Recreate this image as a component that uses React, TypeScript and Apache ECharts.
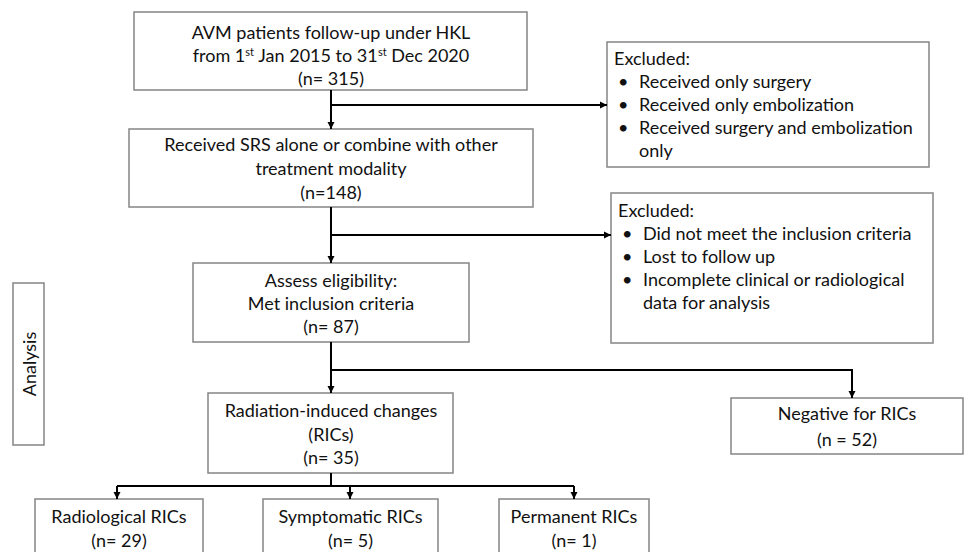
import React, { useEffect, useRef } from "react";
import * as echarts from "echarts";

// ---- Data (texts and counts of the flow diagram) ----
const mainStepLines: string[][] = [
  ["AVM patients follow-up under HKL", "from 1{sup|st} Jan 2015 to 31{sup|st} Dec 2020"],
  ["Received SRS alone or combine with other", "treatment modality"],
  ["Assess eligibility:", "Met inclusion criteria"],
  ["Radiation-induced changes", "(RICs)"],
];
const mainCounts: string[] = ["(n= 315)", "(n=148)", "(n= 87)", "(n= 35)"];
const exclusionTitle = "Excluded:";
const exclusion1: string[][] = [
  ["Received only surgery"],
  ["Received only embolization"],
  ["Received surgery and embolization", "only"],
];
const exclusion2: string[][] = [
  ["Did not meet the inclusion criteria"],
  ["Lost to follow up"],
  ["Incomplete clinical or radiological", "data for analysis"],
];
const outcomeLabels: string[] = ["Radiological RICs", "Symptomatic RICs", "Permanent RICs"];
const outcomeCounts: string[] = ["(n= 29)", "(n= 5)", "(n= 1)"];
const negativeLabel = "Negative for RICs";
const negativeCount = "(n = 52)";
const sideLabel = "Analysis";

const FONT_FAMILY = "Lato, 'Open Sans', 'DejaVu Sans', sans-serif";
const FONT_SIZE = 18;
const TEXT_COLOR = "#111111";
const BOX_STROKE = "#858585";
const LINE_COLOR = "#000000";

type Rect = { x: number; y: number; w: number; h: number };

function box(r: Rect): any {
  return {
    type: "rect",
    shape: { x: r.x, y: r.y, width: r.w, height: r.h },
    style: { fill: "#ffffff", stroke: BOX_STROKE, lineWidth: 1.5 },
    z: 1,
  };
}

function text(t: string, x: number, y: number, align: string = "center", rich = false, size = FONT_SIZE): any {
  const style: any = {
    text: t,
    x: 0,
    y: 0,
    fill: TEXT_COLOR,
    fontSize: size,
    fontFamily: FONT_FAMILY,
    textAlign: align,
    textVerticalAlign: "middle",
  };
  if (rich) {
    style.rich = {
      sup: {
        fontSize: 11,
        fontFamily: FONT_FAMILY,
        fill: TEXT_COLOR,
        verticalAlign: "top",
        textVerticalAlign: "top",
      },
    };
  }
  return { type: "text", x, y, style, z: 3 };
}

function centeredLines(lines: string[], cx: number, y0: number, step: number): any[] {
  return lines.map((l, i) => text(l, cx, y0 + i * step, "center", l.indexOf("{sup|") >= 0));
}

function polyline(points: number[][]): any {
  return {
    type: "polyline",
    shape: { points },
    style: { stroke: LINE_COLOR, lineWidth: 2, fill: null },
    z: 2,
  };
}

function arrowDown(x: number, y: number): any {
  return {
    type: "polygon",
    shape: { points: [[x, y], [x - 3.5, y - 7], [x + 3.5, y - 7]] },
    style: { fill: LINE_COLOR },
    z: 2,
  };
}

function arrowRight(x: number, y: number): any {
  return {
    type: "polygon",
    shape: { points: [[x, y], [x - 7, y - 3.5], [x - 7, y + 3.5]] },
    style: { fill: LINE_COLOR },
    z: 2,
  };
}

function bulletList(title: string, items: string[][], r: Rect, titleX: number, bulletX: number, textX: number, y0: number, step: number): any[] {
  const out: any[] = [box(r), text(title, titleX, y0, "left")];
  let row = 1;
  items.forEach((item) => {
    item.forEach((l, j) => {
      const y = y0 + row * step;
      if (j === 0) out.push(text("\u2022", bulletX, y, "left"));
      out.push(text(l, textX, y, "left"));
      row++;
    });
  });
  return out;
}

function buildGraphics(): any[] {
  const g: any[] = [];
  const cx = 331;

  const mainBoxes: Rect[] = [
    { x: 134, y: 12, w: 393, h: 78 },
    { x: 129, y: 129, w: 404, h: 78 },
    { x: 193, y: 263, w: 276, h: 79 },
    { x: 208, y: 393, w: 245, h: 80 },
  ];
  const mainFirstLine = [32, 144, 280, 410];
  const mainStep = [23, 24, 23, 23.5];

  // connectors
  g.push(polyline([[cx, 90], [cx, 129]]), arrowDown(cx, 129));
  g.push(polyline([[cx, 105], [607, 105]]), arrowRight(607, 105));
  g.push(polyline([[cx, 207], [cx, 263]]), arrowDown(cx, 263));
  g.push(polyline([[cx, 235], [611, 235]]), arrowRight(611, 235));
  g.push(polyline([[cx, 342], [cx, 393]]), arrowDown(cx, 393));
  g.push(polyline([[cx, 370], [852, 370], [852, 398]]), arrowDown(852, 398));
  g.push(polyline([[cx, 473], [cx, 486]]));

  const outBoxes: Rect[] = [
    { x: 35, y: 499, w: 168, h: 70 },
    { x: 263, y: 499, w: 175, h: 70 },
    { x: 499, y: 499, w: 150, h: 70 },
  ];
  const dropX = [117, 350, 574];
  g.push(polyline([[dropX[0], 486], [dropX[2], 486]]));
  dropX.forEach((x) => {
    g.push(polyline([[x, 486], [x, 499]]), arrowDown(x, 499));
  });

  // main boxes
  mainBoxes.forEach((r, i) => {
    g.push(box(r));
    const lines = [...mainStepLines[i], mainCounts[i]];
    g.push(...centeredLines(lines, cx, mainFirstLine[i], mainStep[i]));
  });

  // exclusion boxes
  g.push(...bulletList(exclusionTitle, exclusion1, { x: 607, y: 42, w: 322, h: 125 }, 614, 618, 639, 58, 23));
  g.push(...bulletList(exclusionTitle, exclusion2, { x: 611, y: 193, w: 322, h: 150 }, 618, 622, 643, 210, 23));

  // negative box
  const neg: Rect = { x: 731, y: 398, w: 232, h: 56 };
  g.push(box(neg));
  g.push(...centeredLines([negativeLabel, negativeCount], neg.x + neg.w / 2, 413, 26));

  // outcome boxes
  outBoxes.forEach((r, i) => {
    g.push(box(r));
    g.push(...centeredLines([outcomeLabels[i], outcomeCounts[i]], r.x + r.w / 2, 516, 24));
  });

  // side label
  g.push(box({ x: 13, y: 283, w: 31, h: 162 }));
  g.push({
    type: "text",
    x: 28.5,
    y: 364,
    rotation: Math.PI / 2,
    style: {
      text: sideLabel,
      x: 0,
      y: 0,
      fill: TEXT_COLOR,
      fontSize: FONT_SIZE,
      fontFamily: FONT_FAMILY,
      textAlign: "center",
      textVerticalAlign: "middle",
    },
    z: 3,
  });

  return g;
}

export default function App() {
  const ref = useRef<HTMLDivElement>(null);
  useEffect(() => {
    if (!ref.current) return;
    const chart = echarts.init(ref.current, null, { renderer: "svg" });
    chart.setOption({
      animation: false,
      backgroundColor: "#ffffff",
      graphic: { elements: buildGraphics() },
    });
    return () => chart.dispose();
  }, []);
  return (
    <div
      ref={ref}
      style={{ position: "fixed", left: 0, top: 0, width: 968, height: 552, background: "#fff" }}
    />
  );
}
